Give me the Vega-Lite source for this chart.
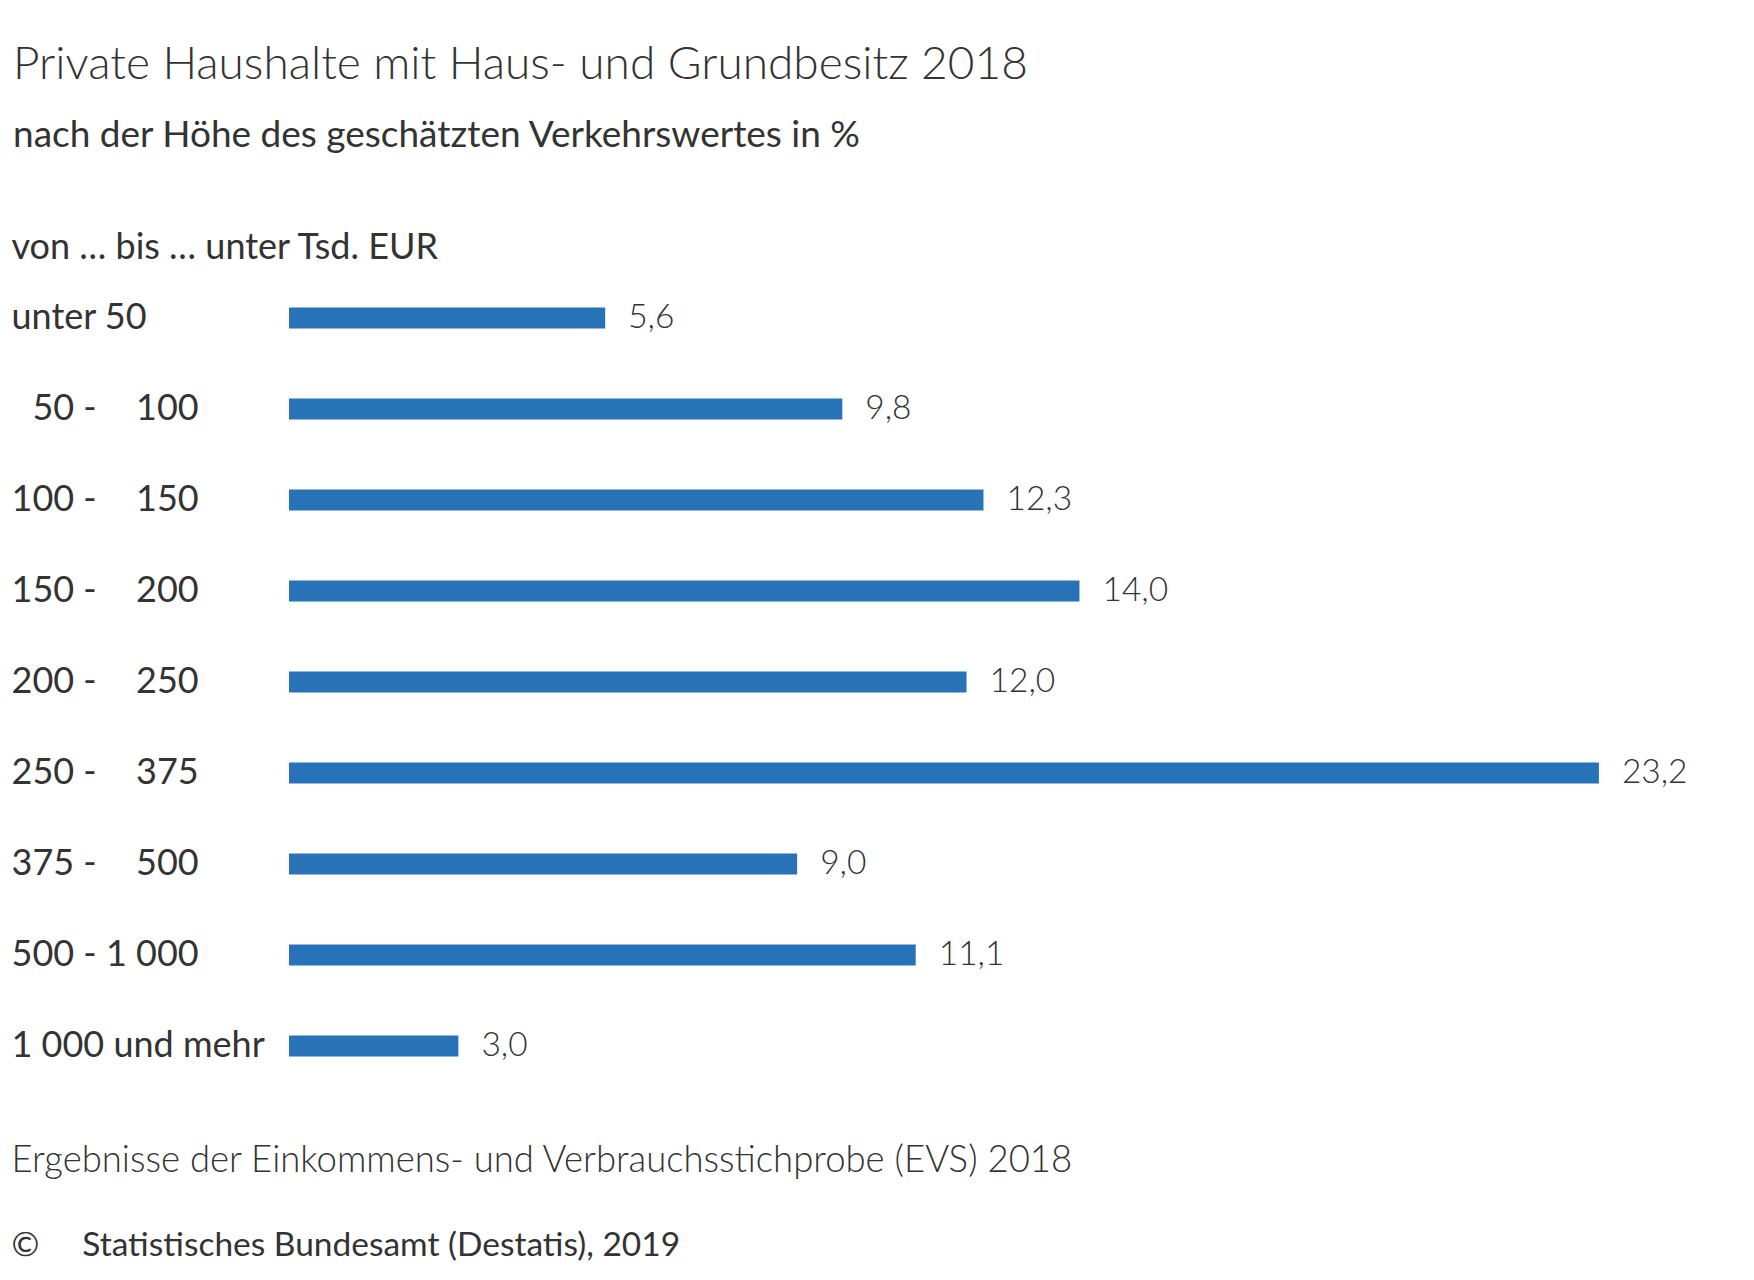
{
  "$schema": "https://vega.github.io/schema/vega-lite/v6.json",
  "width": 1420,
  "height": 819,
  "autosize": "none",
  "padding": {"left": 289, "top": 272.5, "right": 45, "bottom": 188.5},
  "background": "white",
  "config": {
    "view": {"stroke": null},
    "font": "Lato",
    "locale": {"number": {"decimal": ",", "thousands": ".", "grouping": [3], "currency": ["", " €"]}}
  },
  "title": {
    "text": "Private Haushalte mit Haus- und Grundbesitz 2018",
    "subtitle": "nach der Höhe des geschätzten Verkehrswertes in %",
    "anchor": "start",
    "frame": "group",
    "dx": -276,
    "offset": 74.5,
    "font": "Lato",
    "fontSize": 46,
    "fontWeight": 300,
    "color": "#333333",
    "subtitleFont": "Lato",
    "subtitleFontSize": 37,
    "subtitleFontWeight": 400,
    "subtitleColor": "#333333",
    "subtitlePadding": 29.5
  },
  "data": {
    "values": [
      {"klasse": "unter 50", "anteil": 5.6},
      {"klasse": "\u2060\u200750 - \u2007\u00a0100", "anteil": 9.8},
      {"klasse": "100 - \u2007\u00a0150", "anteil": 12.3},
      {"klasse": "150 - \u2007\u00a0200", "anteil": 14.0},
      {"klasse": "200 - \u2007\u00a0250", "anteil": 12.0},
      {"klasse": "250 - \u2007\u00a0375", "anteil": 23.2},
      {"klasse": "375 - \u2007\u00a0500", "anteil": 9.0},
      {"klasse": "500 - 1\u00a0000", "anteil": 11.1},
      {"klasse": "1\u00a0000 und mehr", "anteil": 3.0}
    ]
  },
  "layer": [
    {
      "mark": {"type": "bar", "height": 21, "color": "#2873b8"},
      "encoding": {
        "y": {
          "field": "klasse",
          "type": "nominal",
          "sort": null,
          "axis": {
            "title": "von … bis … unter Tsd. EUR",
            "titleAngle": 0,
            "titleAlign": "left",
            "titleBaseline": "middle",
            "titleX": -278,
            "titleY": -25,
            "titleFont": "Lato",
            "titleFontSize": 36,
            "titleFontWeight": 400,
            "titleColor": "#333333",
            "labelAlign": "left",
            "labelBaseline": "middle",
            "labelPadding": 278,
            "labelFont": "Lato",
            "labelFontSize": 36,
            "labelFontWeight": 400,
            "labelColor": "#333333",
            "labelLimit": 400,
            "ticks": false,
            "tickSize": 0,
            "domain": false,
            "grid": false
          }
        },
        "x": {
          "field": "anteil",
          "type": "quantitative",
          "scale": {"domain": [0, 25.15]},
          "axis": {
            "orient": "bottom",
            "labels": false,
            "ticks": false,
            "domain": false,
            "grid": false,
            "title": "Ergebnisse der Einkommens- und Verbrauchsstichprobe (EVS) 2018",
            "titleX": -278,
            "titleY": 69,
            "titleAlign": "left",
            "titleBaseline": "middle",
            "titleFont": "Lato",
            "titleFontSize": 36.5,
            "titleFontWeight": 300,
            "titleColor": "#333333"
          }
        }
      }
    },
    {
      "mark": {"type": "text", "align": "left", "baseline": "middle", "dx": 23, "font": "Lato", "fontSize": 33.5, "fontWeight": 300, "color": "#333333"},
      "encoding": {
        "y": {"field": "klasse", "type": "nominal", "sort": null},
        "x": {
          "field": "anteil",
          "type": "quantitative",
          "scale": {"domain": [0, 25.15]},
          "axis": {
            "orient": "bottom",
            "labels": false,
            "ticks": false,
            "domain": false,
            "grid": false,
            "title": "©\u00a0\u00a0\u00a0\u00a0 Statistisches Bundesamt (Destatis), 2019",
            "titleX": -278,
            "titleY": 154,
            "titleAlign": "left",
            "titleBaseline": "middle",
            "titleFont": "Lato",
            "titleFontSize": 33.5,
            "titleFontWeight": 400,
            "titleColor": "#333333"
          }
        },
        "text": {"field": "anteil", "type": "quantitative", "format": ".1f"}
      }
    }
  ],
  "resolve": {"axis": {"x": "independent"}}
}
